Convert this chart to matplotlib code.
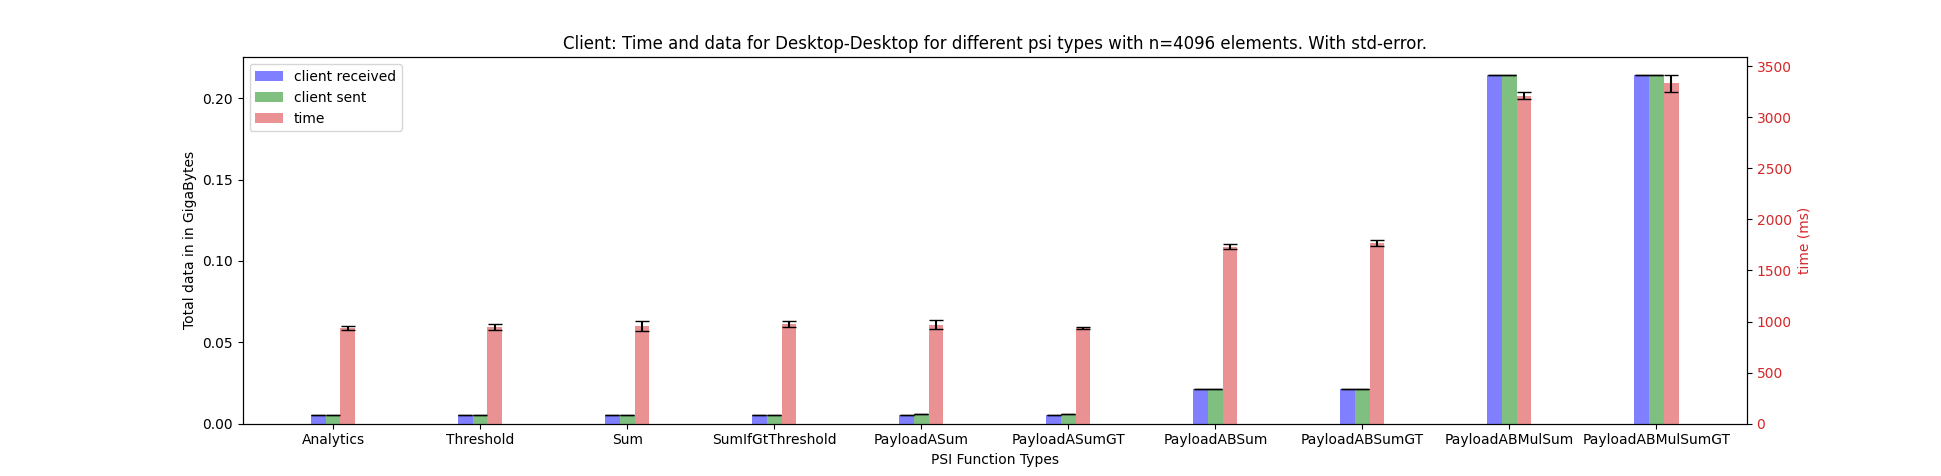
import numpy as np
import matplotlib
matplotlib.use('Agg')
import matplotlib.pyplot as plt

# PSI function types
types = ['Analytics', 'Threshold', 'Sum', 'SumIfGtThreshold', 'PayloadASum',
         'PayloadASumGT', 'PayloadABSum', 'PayloadABSumGT', 'PayloadABMulSum',
         'PayloadABMulSumGT']

# data in GB
received = [0.0053, 0.0053, 0.0053, 0.0053, 0.0053, 0.0053, 0.0213, 0.0213, 0.2146, 0.2146]
received_err = [0.0, 0.0, 0.0, 0.0, 0.0, 0.0, 0.0, 0.0, 0.0, 0.0]
sent = [0.0053, 0.0053, 0.0053, 0.0053, 0.0062, 0.0062, 0.0213, 0.0213, 0.2146, 0.2146]
sent_err = [0.0, 0.0, 0.0, 0.0, 0.0, 0.0, 0.0, 0.0, 0.0, 0.0]

# time in ms
time_ms = [936, 945, 958, 978, 968, 936, 1733, 1767, 3210, 3331]
time_err = [20, 32, 47, 29, 44, 10, 24, 29, 36, 87]

x = np.arange(len(types))
width = 0.1

fig, ax = plt.subplots(figsize=(19.41, 4.76), dpi=100)
ax2 = ax.twinx()

b1 = ax.bar(x - width, received, width, yerr=received_err, capsize=5,
            color='blue', alpha=0.5, label='client received')
b2 = ax.bar(x, sent, width, yerr=sent_err, capsize=5,
            color='green', alpha=0.5, label='client sent')
b3 = ax2.bar(x + width, time_ms, width, yerr=time_err, capsize=5,
             color='tab:red', alpha=0.5, label='time')

ax.set_xticks(x)
ax.set_xticklabels(types)
ax.set_xlabel('PSI Function Types')
ax.set_ylabel('Total data in in GigaBytes')
ax2.set_ylabel('time (ms)', color='tab:red')
ax2.tick_params(axis='y', labelcolor='tab:red')
ax.set_title('Client: Time and data for Desktop-Desktop for different psi types with n=4096 elements. With std-error.')

ax2.legend([b1, b2, b3], ['client received', 'client sent', 'time'], loc='upper left')

plt.savefig('out.png')
